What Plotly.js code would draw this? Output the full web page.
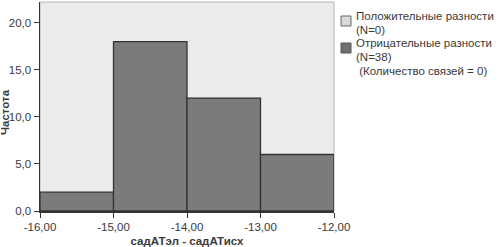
<!DOCTYPE html>
<html>
<head>
<meta charset="utf-8">
<script src="https://cdn.plot.ly/plotly-3.0.1.min.js"></script>
<style>html,body{margin:0;padding:0;background:#fff;}#chart{width:499px;height:247px;}</style>
</head>
<body>
<div id="chart"></div>
<script>
const binCenters = [-15.5, -14.5, -13.5, -12.5];
const negativeCounts = [2, 18, 12, 6];
const positiveCounts = [0, 0, 0, 0];
const xTicks = [-16, -15, -14, -13, -12];
const yTicks = [0, 5, 10, 15, 20];
const legendPositive = ['Положительные разности', '(N=0)'];
const legendNegative = ['Отрицательные разности', '(N=38)', ' (Количество связей = 0)'];

const fmt = (v, d) => v.toFixed(d).replace('.', ',');

const traces = [
  {type: 'bar', x: binCenters, y: positiveCounts, width: 1, name: legendPositive.join(' '),
   marker: {color: '#d9d9d9', line: {color: '#555', width: 1}}, hoverinfo: 'skip'},
  {type: 'bar', x: binCenters, y: negativeCounts, width: 1, name: legendNegative.join(' '),
   marker: {color: '#7b7b7b', line: {color: '#333333', width: 1.3}}, hoverinfo: 'skip'}
];

// page layout in pixels -> paper coords
const L = 40, R = 334, T = 2, B = 211;
const px = p => (p - L) / (R - L);
const py = p => (B - p) / (B - T);

const textFont = {family: 'Arial, Liberation Sans, sans-serif', size: 11.5, color: '#3a3a3a'};
const annotations = [];
const addLines = (lines, yStart, xLeft) => {
  lines.forEach((t, i) => annotations.push({
    xref: 'paper', yref: 'paper', x: px(xLeft), y: py(yStart + i * 13.5),
    xanchor: 'left', yanchor: 'middle', text: t, showarrow: false, font: textFont
  }));
};
addLines(legendPositive, 16.5, 354);
addLines(legendNegative, 43.5, 354);

const layout = {
  width: 499, height: 247,
  margin: {l: L, r: 499 - R, t: T, b: 247 - B},
  paper_bgcolor: '#ffffff', plot_bgcolor: '#ebebeb',
  font: {family: 'Arial, Liberation Sans, sans-serif', size: 11.5, color: '#3a3a3a'},
  barmode: 'overlay',
  showlegend: false,
  xaxis: {range: [-16, -12], tickvals: xTicks, ticktext: xTicks.map(v => fmt(v, 2)),
          ticks: 'outside', ticklen: 5, tickcolor: '#333',
          showgrid: false, zeroline: false, showline: true, linecolor: '#333', linewidth: 1.5,
          fixedrange: true,
          title: {text: '<b>садАТэл - садАТисх</b>', font: {size: 11.5, color: '#3a3a3a'}, standoff: 6}},
  yaxis: {range: [0, 22.2], tickvals: yTicks, ticktext: yTicks.map(v => fmt(v, 1)),
          ticks: 'outside', ticklen: 5, tickcolor: '#333',
          showgrid: false, zeroline: false, showline: true, linecolor: '#333', linewidth: 1.5,
          fixedrange: true},
  annotations: annotations.concat([
    {xref: 'paper', yref: 'paper', x: px(5), y: py(112), xanchor: 'center', yanchor: 'middle',
     text: '<b>Частота</b>', textangle: -90, showarrow: false, font: textFont, borderpad: 0}
  ]),
  shapes: [
    {type: 'rect', xref: 'paper', yref: 'paper', x0: 0, x1: 1, y0: 0, y1: 1,
     line: {color: '#b5b5b5', width: 1}, layer: 'below'},
    {type: 'rect', xref: 'paper', yref: 'paper', x0: px(341), x1: px(351), y0: py(26), y1: py(16),
     fillcolor: '#d9d9d9', line: {color: '#666', width: 1}},
    {type: 'rect', xref: 'paper', yref: 'paper', x0: px(341), x1: px(351), y0: py(53), y1: py(43),
     fillcolor: '#6f6f6f', line: {color: '#555', width: 1}}
  ]
};

Plotly.newPlot('chart', traces, layout, {displayModeBar: false, staticPlot: true});
</script>
</body>
</html>
